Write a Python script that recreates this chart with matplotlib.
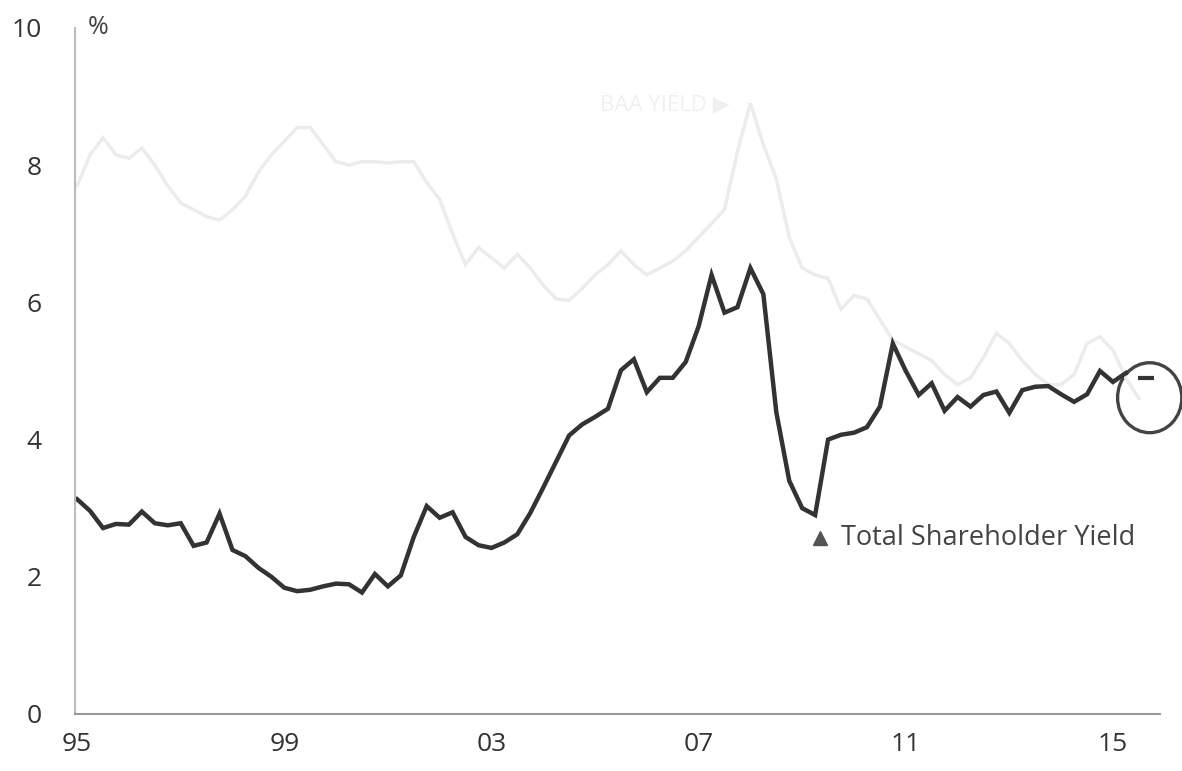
import numpy as np
import matplotlib.pyplot as plt
from matplotlib.patches import Ellipse

plt.rcParams['font.family'] = ['Open Sans', 'DejaVu Sans']

# ─── Quarterly series, 1995Q1 onwards ─────────────────────────────────────────
shareholder_yield = [
    3.13, 2.96, 2.71, 2.77, 2.76, 2.95, 2.78, 2.75, 2.78, 2.45,
    2.50, 2.92, 2.39, 2.30, 2.13, 2.00, 1.84, 1.79, 1.81, 1.86,
    1.90, 1.89, 1.77, 2.04, 1.86, 2.02, 2.58, 3.03, 2.86, 2.94,
    2.58, 2.46, 2.42, 2.50, 2.62, 2.93, 3.30, 3.68, 4.06, 4.22,
    4.33, 4.45, 5.01, 5.17, 4.69, 4.90, 4.90, 5.13, 5.65, 6.40,
    5.85, 5.93, 6.50, 6.12, 4.40, 3.40, 3.00, 2.90, 4.00, 4.07,
    4.10, 4.18, 4.48, 5.40, 5.00, 4.65, 4.82, 4.42, 4.62, 4.48,
    4.65, 4.70, 4.39, 4.72, 4.77, 4.78, 4.66, 4.55, 4.66, 5.00,
    4.84, 4.97,
]

baa_yield = [
    7.70, 8.15, 8.40, 8.15, 8.10, 8.25, 8.00, 7.70, 7.45, 7.35,
    7.25, 7.20, 7.35, 7.55, 7.90, 8.15, 8.35, 8.55, 8.55, 8.30,
    8.05, 8.00, 8.05, 8.05, 8.03, 8.05, 8.05, 7.75, 7.50, 7.00,
    6.55, 6.80, 6.65, 6.50, 6.70, 6.50, 6.25, 6.05, 6.03, 6.20,
    6.40, 6.55, 6.75, 6.55, 6.40, 6.50, 6.60, 6.75, 6.95, 7.15,
    7.35, 8.20, 8.90, 8.30, 7.80, 6.95, 6.50, 6.40, 6.35, 5.90,
    6.10, 6.05, 5.75, 5.45, 5.35, 5.25, 5.15, 4.95, 4.80, 4.90,
    5.20, 5.55, 5.40, 5.15, 4.95, 4.80, 4.80, 4.95, 5.40, 5.50,
    5.30, 4.90, 4.60,
]

tick_years = [1995, 1999, 2003, 2007, 2011, 2015]
tick_labels = ["95", "99", "03", "07", "11", "15"]

latest_point = (2015.64, 4.90)

t_tsy = 1995 + np.arange(len(shareholder_yield)) / 4
t_baa = 1995 + np.arange(len(baa_yield)) / 4

fig = plt.figure(figsize=(11.82, 7.71), dpi=100)
ax = fig.add_axes([0.0635, 0.074, 0.9175, 0.8897])

ax.plot(t_baa, baa_yield, color="#ececec", lw=2.5, solid_joinstyle="miter")
ax.plot(t_tsy, shareholder_yield, color="#333333", lw=3.2, solid_joinstyle="miter")

# circled latest reading
ax.add_patch(Ellipse((2015.71, 4.61), 1.24, 1.02, fill=False,
                     edgecolor="#444444", lw=2.4, clip_on=False))
ax.plot(*latest_point, marker="_", ms=12, mew=3, color="#333333", clip_on=False)

ax.text(2006.35, 8.88, "BAA YIELD ▶", color="#f0f0f0", fontsize=16,
        ha="center", va="center")

ax.plot(2009.34, 2.57, marker="^", ms=10, color="#555555", clip_on=False)
ax.text(2009.75, 2.57, "Total Shareholder Yield", color="#444444",
        fontsize=19.5, va="center", ha="left")

ax.text(0.012, 1.0, "%", transform=ax.transAxes, fontsize=18,
        color="#444444", va="center", ha="left")

ax.set_xlim(1994.96, 2015.9)
ax.set_ylim(0, 10)
ax.set_xticks(tick_years)
ax.set_xticklabels(tick_labels)
ax.set_yticks([0, 2, 4, 6, 8, 10])
ax.set_yticklabels(["0", "2", "4", "6", "8", "10"])
ax.tick_params(axis="both", length=0, labelsize=19, colors="#333333")
ax.tick_params(axis="y", pad=24)
ax.tick_params(axis="x", pad=13)

for side in ["top", "right"]:
    ax.spines[side].set_visible(False)
ax.spines["left"].set_color("#bbbbbb")
ax.spines["left"].set_linewidth(1.5)
ax.spines["bottom"].set_color("#999999")
ax.spines["bottom"].set_linewidth(1.5)

fig.savefig("out.png", dpi=100, facecolor="white")
